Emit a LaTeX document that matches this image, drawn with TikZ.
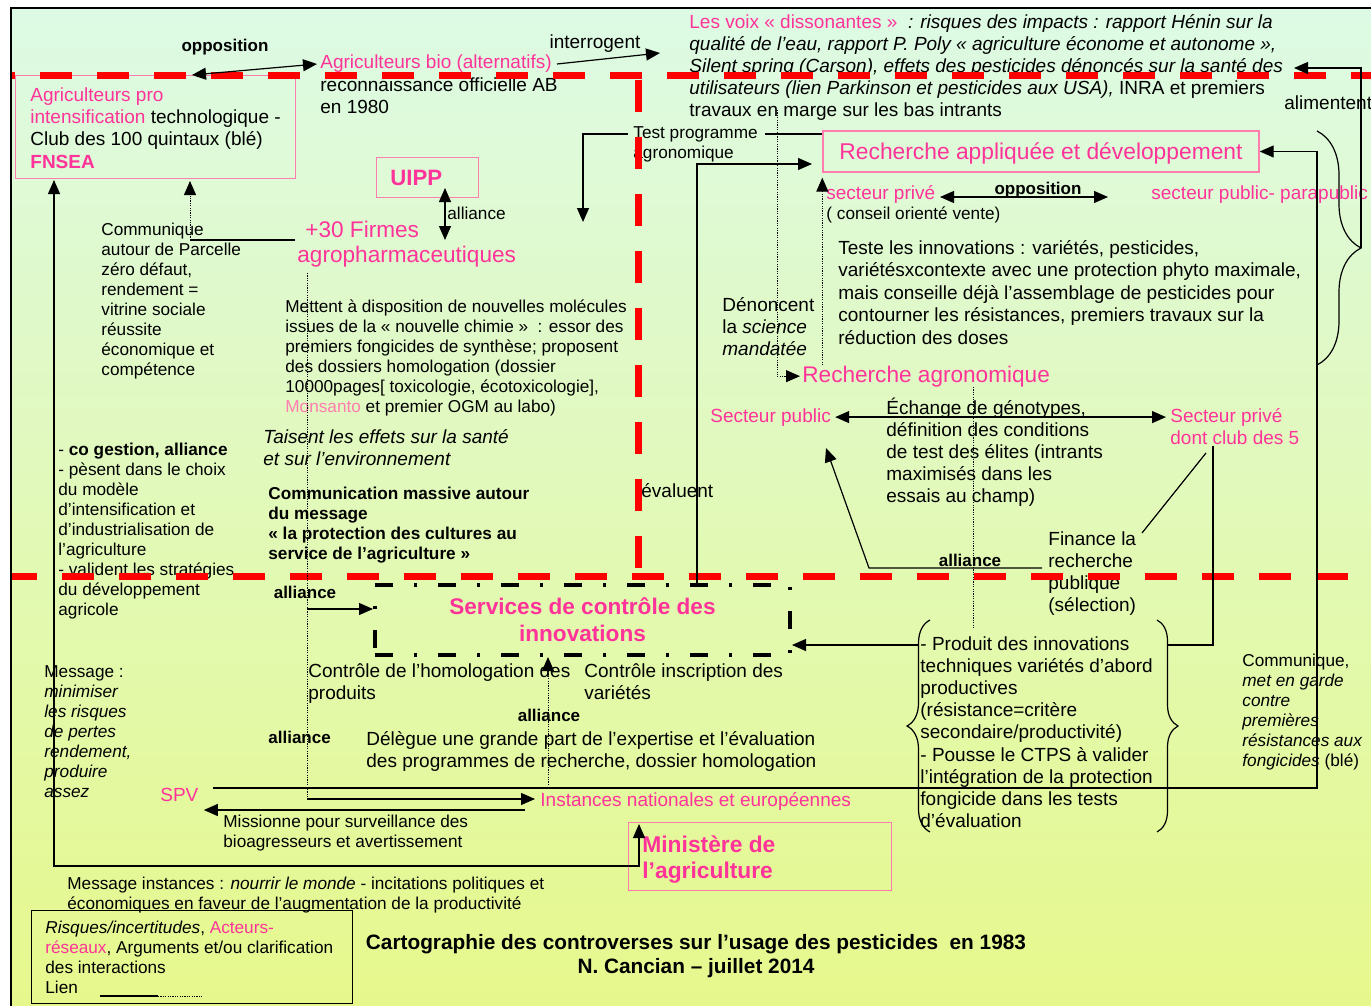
\documentclass[tikz,border=0pt]{standalone}
\usepackage{fontspec}
\setmainfont{Liberation Sans}
\usetikzlibrary{arrows.meta,decorations.pathreplacing}

\definecolor{rose}{RGB}{255,51,153}
\definecolor{roseclair}{RGB}{255,125,175}
\definecolor{fondhaut}{RGB}{221,250,229}
\definecolor{fondbas}{RGB}{230,248,140}

\begin{document}
\begin{tikzpicture}[x=0.5pt, y=-0.5pt,
    % les textes sur plusieurs lignes sont places par la ligne de base de leur derniere ligne
    txt/.style={anchor=base west, inner sep=0pt, align=left, font=\fontsize{9.5}{11.1}\selectfont},
    petit/.style={anchor=base west, inner sep=0pt, align=left, font=\fontsize{8.6}{10}\selectfont},
    gras/.style={anchor=base, inner sep=0pt, font=\bfseries\fontsize{8.5}{10}\selectfont},
    grand/.style={anchor=base west, inner sep=0pt, align=left, text=rose, font=\fontsize{11.3}{12.7}\selectfont},
    cadre/.style={draw=roseclair, line width=0.7pt, inner sep=0pt},
    lien/.style={line width=0.6pt},
    fleche/.style={lien, -{Triangle[length=7pt, width=6pt]}},
    fleches/.style={lien, {Triangle[length=7pt, width=6pt]}-{Triangle[length=7pt, width=6pt]}},
    pointille/.style={line width=0.5pt, dash pattern=on 0.6pt off 0.6pt},
    frontiere/.style={red, line width=3.5pt, dash pattern=on 16pt off 12.5pt},
    accolade/.style={line width=0.6pt, decorate, decoration={brace, amplitude=#1}},
  ]

  % fond
  \useasboundingbox (0,0) rectangle (1371,1006);
  \fill[white] (0,0) rectangle (1371,1006);
  \shade[top color=fondhaut, bottom color=fondbas] (11,8) rectangle (1371,1006);
  \draw[line width=1.1pt] (11,1006) -- (11,8) -- (1371,8);

  % en haut a gauche
  \node[gras] (opp1) at (225,52) {opposition};
  \node[cadre, anchor=north west, minimum width=140pt, minimum height=51.5pt] (fnsea) at (15,75) {};
  \node[txt, font=\fontsize{9.5}{11.2}\selectfont] (fnseatxt) at (30,168.2) {\textcolor{rose}{Agriculteurs pro}\\\textcolor{rose}{intensification} technologique -\\Club des 100 quintaux (blé)\\\textcolor{rose}{\bfseries FNSEA}};
  \node[txt, font=\fontsize{9.5}{11.2}\selectfont] (bio) at (320,113.8) {\textcolor{rose}{Agriculteurs bio (alternatifs)}\\reconnaissance officielle AB\\en 1980};
  \node[txt, anchor=base] (interr) at (595,49) {interrogent};
  \node[txt] (voix) at (689,116.8) {\textcolor{rose}{Les voix « dissonantes »}~ \textit{: risques des impacts : rapport Hénin sur la}\\\textit{qualité de l’eau, rapport P. Poly « agriculture économe et autonome »,}\\\textit{Silent spring (Carson), effets des pesticides dénoncés sur la santé des}\\\textit{utilisateurs (lien Parkinson et pesticides aux USA),} INRA et premiers\\travaux en marge sur les bas intrants};
  \node[txt] (alim) at (1284,110) {alimentent};

  % firmes
  \node[cadre, anchor=north west, minimum width=51pt, minimum height=20pt] (uipp) at (376,157) {};
  \node[txt, text=rose, font=\bfseries\fontsize{11.1}{13}\selectfont] (uipptxt) at (390,185) {UIPP};
  \node[petit] (alli1) at (447,220) {alliance};
  \node[grand] (firm) at (297,262.4) {\hspace{4pt}+30 Firmes\\agropharmaceutiques};
  \node[petit] (comm) at (101,375) {Communique\\autour de Parcelle\\zéro défaut,\\rendement =\\vitrine sociale\\réussite\\économique et\\compétence};
  \node[petit] (mett) at (285,412) {Mettent à disposition de nouvelles molécules\\issues de la « nouvelle chimie »~ : essor des\\premiers fongicides de synthèse; proposent\\des dossiers homologation (dossier\\10000pages[ toxicologie, écotoxicologie],\\\textcolor{roseclair}{Monsanto} et premier OGM au labo)};
  \node[txt, font=\itshape\fontsize{9.5}{11}\selectfont] (tais) at (263,465) {Taisent les effets sur la santé\\et sur l’environnement};
  \node[petit, font=\bfseries\fontsize{8.6}{10}\selectfont] (massive) at (268,559) {Communication massive autour\\du message\\« la protection des cultures au\\service de l’agriculture »};
  \node[petit] (cogest) at (58,615) {- \textbf{co gestion, alliance}\\- pèsent dans le choix\\du modèle\\d’intensification et\\d’industrialisation de\\l’agriculture\\- valident les stratégies\\du développement\\agricole};

  % recherche
  \node[cadre, minimum width=218pt, minimum height=20.5pt, text depth=0pt, text=rose, font=\fontsize{11.4}{13.5}\selectfont] (rad) at (1041,151.5) {Recherche appliquée et développement};
  \node[petit] (tp) at (633,159) {Test programme\\agronomique};
  \node[txt, text=rose] (spriv) at (826,199) {secteur privé};
  \node[petit] (conseil) at (826,220) {( conseil orienté vente)};
  \node[gras] (opp2) at (1038,194) {opposition};
  \node[txt, text=rose] (spub) at (1151,199) {secteur public- parapublic};
  \node[txt, font=\fontsize{9.5}{11.25}\selectfont] (teste) at (838,344) {Teste les innovations : variétés, pesticides,\\variétésxcontexte avec une protection phyto maximale,\\mais conseille déjà l’assemblage de pesticides pour\\contourner les résistances, premiers travaux sur la\\réduction des doses};
  \node[txt] (denon) at (722,355.4) {Dénoncent\\la \textit{science}\\\textit{mandatée}};
  \node[grand] (rag) at (802,382) {Recherche agronomique};
  \node[txt, text=rose] (spubl) at (710,422) {Secteur public};
  \node[txt, text=rose] (sprivc) at (1170,444.2) {Secteur privé\\dont club des 5};
  \node[txt] (echange) at (886,502.8) {Échange de génotypes,\\définition des conditions\\de test des élites (intrants\\maximisés dans les\\essais au champ)};
  \node[txt] (evalu) at (641,497) {évaluent};
  \node[txt] (finance) at (1048,611.6) {Finance la\\recherche\\publique\\(sélection)};
  \node[gras] (alli2) at (970,566) {alliance};

  % services et instances
  \node[draw, line width=2pt, dash pattern=on 9pt off 10.5pt on 1.5pt off 10.5pt, minimum width=207.5pt, minimum height=35pt, inner sep=0pt, align=center, text=rose, font=\bfseries\fontsize{11.3}{13.5}\selectfont] (svc) at (582.5,620) {Services de contrôle des\\innovations};
  \node[gras] (alli3) at (305,598) {alliance};
  \node[txt] (homol) at (308,699.2) {Contrôle de l’homologation des\\produits};
  \node[txt] (inscr) at (584,699.2) {Contrôle inscription des\\variétés};
  \node[gras] (alli4) at (549,721) {alliance};
  \node[gras, anchor=base west] (alli5) at (268,743) {alliance};
  \node[txt] (delegue) at (366,767.2) {Délègue une grande part de l’expertise et l’évaluation\\des programmes de recherche, dossier homologation};
  \node[petit] (message) at (44,797) {Message :\\\textit{minimiser}\\\textit{les risques}\\\textit{de pertes}\\\textit{rendement,}\\\textit{produire}\\\textit{assez}};
  \node[txt, text=rose] (spv) at (160,801) {SPV};
  \node[txt, text=rose] (inst) at (540,806) {Instances nationales et européennes};
  \node[petit] (missionne) at (223,847) {Missionne pour surveillance des\\bioagresseurs et avertissement};
  \node[txt] (produit) at (920,827.6) {- Produit des innovations\\techniques variétés d’abord\\productives\\(résistance=critère\\secondaire/productivité)\\- Pousse le CTPS à valider\\l’intégration de la protection\\fongicide dans les tests\\d’évaluation};
  \node[petit] (commr) at (1242,766) {Communique,\\\textit{met en garde}\\\textit{contre}\\\textit{premières}\\\textit{résistances aux}\\\textit{fongicides} (blé)};
  \node[cadre, anchor=north west, minimum width=131.5pt, minimum height=34pt] (minist) at (628,822) {};
  \node[txt, text=rose, font=\bfseries\fontsize{11.4}{13}\selectfont] (ministxt) at (642,878) {Ministère de\\l’agriculture};
  \node[petit] (msginst) at (67,909) {Message instances : \textit{nourrir le monde} - incitations politiques et\\économiques en faveur de l’augmentation de la productivité};

  % legende et titre
  \node[draw, line width=0.6pt, anchor=north west, minimum width=160.5pt, minimum height=46.5pt, inner sep=0pt] (legende) at (31,910) {};
  \node[petit] (legtxt) at (45,993) {\textit{Risques/incertitudes}, \textcolor{rose}{Acteurs-}\\\textcolor{rose}{réseaux}, Arguments et/ou clarification\\des interactions\\Lien};
  \node[anchor=base, inner sep=0pt, align=center, font=\bfseries\fontsize{10.4}{12}\selectfont] (carto) at (696,973) {Cartographie des controverses sur l’usage des pesticides~ en 1983\\N. Cancian – juillet 2014};

  % accolades
  \draw[accolade=22pt] (1317,131) -- (1317,365);
  \draw[accolade=11.5pt] (930,832) -- (930,620);
  \draw[accolade=10.5pt] (1157,620) -- (1157,832);

  % frontieres
  \draw[frontiere, dash phase=14.5pt] (12,76) -- (1371,76);
  \draw[frontiere, dash phase=3.5pt] (12,576) -- (1371,576);
  \draw[frontiere] (638,80) -- (638,572);

  % liens
  \coordinate (oppG) at (192,75);
  \coordinate (oppD) at (317,64);
  \draw[fleches] (oppG) -- (oppD);
  \coordinate (intG) at (557,64);
  \coordinate (intD) at (660,53);
  \draw[fleche] (intG) -- (intD);
  \coordinate (accR) at (1361,248);
  \coordinate (alimG) at (1294,68);
  \draw[fleche] (accR) |- (alimG);

  \coordinate (tpD) at (765,134);
  \coordinate (tpG) at (628,134);
  \coordinate (tpB) at (583,222);
  \draw[lien] (tpD) -- (tpD -| rad.west);
  \draw[fleche] (tpG) -| (tpB);

  \coordinate (evB) at (697,586);
  \coordinate (evH) at (812,164);
  \draw[fleche] (evB) |- (evH);

  \coordinate (denH) at (777,110);
  \draw[pointille, -{Triangle[length=7pt, width=6pt]}, shorten >=1pt] (denH) |- (rag.west);
  \draw[pointille, -{Triangle[length=7pt, width=6pt]}, shorten >=2.5pt] (rag.north -| rad.west) -- (rad.south west);

  \coordinate (oppPG) at (940,197);
  \coordinate (oppPD) at (1108,197);
  \draw[fleches] (oppPG) -- (oppPD);

  \coordinate (spvD) at (213,788);
  \coordinate (comX) at (1317,788);
  \draw[fleche] (spvD) -- (comX) |- (rad.east);

  \draw[fleches, shorten <=2pt, shorten >=2pt] (spubl.east) -- (spubl.east -| sprivc.west);

  \coordinate (allD) at (1042,568);
  \coordinate (allC) at (869,568);
  \coordinate (spublB) at (826,448);
  \draw[fleche] (allD) -- (allC) -- (spublB);

  \coordinate (finA) at (1142,533);
  \coordinate (clubA) at (1206,453);
  \draw[lien] (finA) -- (clubA);
  \coordinate (prodD) at (1168,645);
  \coordinate (clubB) at (1213,446);
  \draw[lien] (prodD) -| (clubB);

  \coordinate (prodG) at (918,645);
  \draw[fleche] (prodG) -- (prodG -| svc.east);
  \coordinate (prodH) at (973,628);
  \draw[pointille] (rag.south -| prodH) -- (prodH);

  \coordinate (firmB) at (307,273);
  \coordinate (firmC) at (307,799);
  \coordinate (allF) at (307,609);
  \draw[pointille] (firmB) -- (firmC);
  \draw[fleche, shorten >=2.5pt] (firmC) -- (firmC -| inst.west);
  \draw[fleche] (allF) -- (allF -| svc.west);

  \coordinate (instH) at (548,785);
  \draw[pointille, -{Triangle[length=7pt, width=6pt]}] (instH) -- (instH |- svc.south);

  \coordinate (missA) at (525,810);
  \draw[fleche, shorten >=2.5pt] (missA) -- (missA -| spv.east);

  \coordinate (fnseaG) at (54,180);
  \coordinate (coB) at (54,866);
  \coordinate (minH) at (639,824);
  \draw[fleches] (fnseaG) -- (coB) -| (minH);

  \coordinate (firmG) at (295,240);
  \coordinate (comH) at (190,240);
  \coordinate (fnseaC) at (190,181);
  \draw[lien] (firmG) -- (comH);
  \draw[pointille, -{Triangle[length=7pt, width=6pt]}] (comH) -- (fnseaC);

  \coordinate (uippB) at (445,188);
  \coordinate (firmH) at (445,240);
  \draw[fleches] (uippB) -- (firmH);

  \coordinate (lienA) at (100,996);
  \coordinate (lienB) at (158,996);
  \coordinate (lienC) at (202,996);
  \draw[lien] (lienA) -- (lienB);
  \draw[pointille] (lienB) -- (lienC);

\end{tikzpicture}
\end{document}
